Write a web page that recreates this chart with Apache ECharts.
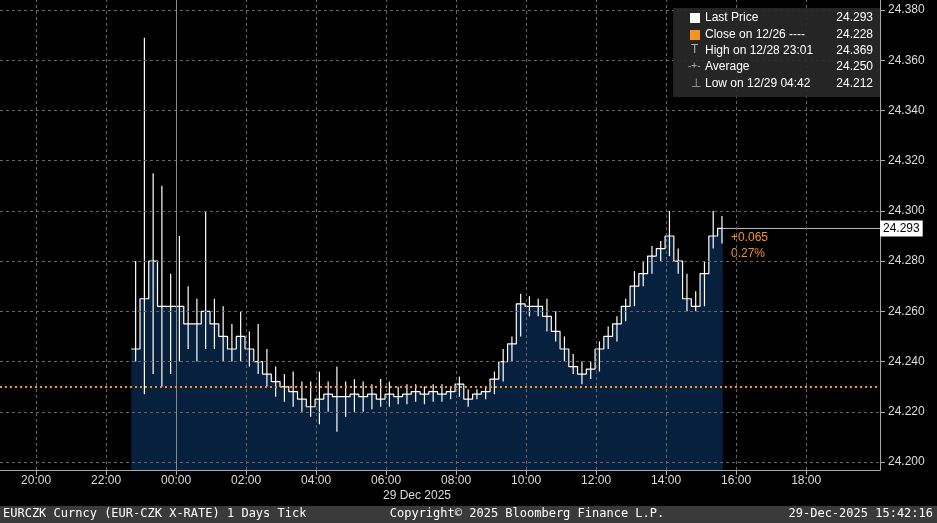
<!DOCTYPE html>
<html lang="en">
<head>
<meta charset="UTF-8">
<title>EURCZK</title>
<script src="https://cdn.jsdelivr.net/npm/echarts@6/dist/echarts.min.js"></script>
<style>html,body{margin:0;background:#000;}#main{width:937px;height:523px;}</style>
</head>
<body>
<div id="main"></div>
<script>
// 15-minute bars, hours counted from 28 Dec 00:00
var startHour = 22.72;
var closes = [24.245,24.265,24.280,24.262,24.262,24.262,24.255,24.255,24.260,24.255,24.250,24.245,24.250,24.245,24.240,24.235,24.232,24.230,24.228,24.225,24.222,24.225,24.227,24.226,24.226,24.227,24.226,24.227,24.225,24.227,24.226,24.227,24.228,24.227,24.228,24.227,24.228,24.231,24.225,24.227,24.228,24.233,24.240,24.247,24.263,24.262,24.262,24.258,24.252,24.245,24.238,24.235,24.237,24.245,24.250,24.255,24.262,24.270,24.275,24.282,24.285,24.290,24.280,24.265,24.262,24.275,24.290,24.293];
var highs = [24.280,24.369,24.315,24.310,24.275,24.290,24.270,24.265,24.300,24.265,24.262,24.255,24.260,24.252,24.255,24.245,24.238,24.235,24.236,24.232,24.232,24.236,24.232,24.238,24.232,24.233,24.232,24.231,24.233,24.232,24.230,24.231,24.231,24.230,24.231,24.231,24.230,24.234,24.229,24.229,24.230,24.236,24.245,24.250,24.267,24.266,24.265,24.265,24.260,24.250,24.243,24.240,24.240,24.248,24.254,24.258,24.265,24.276,24.280,24.286,24.288,24.300,24.285,24.275,24.268,24.280,24.300,24.298];
var lows = [24.240,24.227,24.235,24.230,24.235,24.240,24.245,24.240,24.245,24.245,24.240,24.240,24.240,24.238,24.235,24.230,24.226,24.224,24.222,24.220,24.218,24.215,24.220,24.212,24.218,24.220,24.220,24.221,24.222,24.222,24.223,24.223,24.224,24.223,24.224,24.224,24.225,24.226,24.222,24.225,24.225,24.227,24.232,24.240,24.250,24.258,24.258,24.252,24.248,24.240,24.235,24.231,24.233,24.236,24.245,24.248,24.256,24.262,24.270,24.275,24.280,24.282,24.275,24.260,24.260,24.262,24.285,24.287];
var yTicks = [24.20,24.22,24.24,24.26,24.28,24.30,24.32,24.34,24.36,24.38];
var xTicks = [20,22,24,26,28,30,32,34,36,38,40,42];
var prevClose = 24.228;
var lastPrice = 24.293;

var closeData = closes.map(function (v, i) { return [startHour + 0.25 * i, v]; });
var endHour = startHour + 0.25 * closes.length - 0.1;
closeData.push([endHour, lastPrice]);
var hlData = highs.map(function (v, i) { return [startHour + 0.25 * i + 0.125, lows[i], v]; });

var chart = echarts.init(document.getElementById('main'));
var font = 'Liberation Sans';
var dash = { color: '#666', type: [3, 3], width: 1 };

chart.setOption({
  backgroundColor: '#000',
  animation: false,
  grid: { left: 0, right: 57, top: 0, bottom: 53 },
  xAxis: {
    type: 'value', min: 18.97, max: 44.11,
    axisLine: { lineStyle: { color: '#aaa' } },
    axisTick: { customValues: xTicks, lineStyle: { color: '#aaa' } },
    axisLabel: {
      customValues: xTicks, color: '#ddd', fontFamily: font, fontSize: 12, margin: 5,
      formatter: function (v) { var h = Math.round(v) % 24; return (h < 10 ? '0' : '') + h + ':00'; }
    },
    splitLine: { show: false }
  },
  yAxis: {
    type: 'value', position: 'right', min: 24.1968, max: 24.384,
    axisLine: { show: true, lineStyle: { color: '#aaa' } },
    axisTick: { customValues: yTicks, lineStyle: { color: '#aaa' } },
    axisLabel: { customValues: yTicks, color: '#ddd', fontFamily: font, fontSize: 12, formatter: function (v) { return v.toFixed(3); } },
    splitLine: { show: false }
  },
  series: [
    {
      type: 'line', data: closeData, step: 'end', symbol: 'none',
      lineStyle: { color: '#fff', width: 1.2 },
      areaStyle: { color: '#06203d', opacity: 1, origin: 'start' },
      markLine: {
        silent: true, symbol: 'none', label: { show: false },
        data: yTicks.map(function (v) { return { yAxis: v, lineStyle: dash }; })
          .concat(xTicks.map(function (v) { return { xAxis: v, lineStyle: v === 24 ? { color: '#888', type: 'solid', width: 1 } : dash }; }))
          .concat([{ yAxis: prevClose, lineStyle: { color: '#f7941d', type: [2, 3], width: 2 } }])
      },
      z: 2
    },
    {
      type: 'custom', data: hlData, z: 3,
      renderItem: function (params, api) {
        var a = api.coord([api.value(0), api.value(1)]);
        var b = api.coord([api.value(0), api.value(2)]);
        return { type: 'line', shape: { x1: a[0], y1: a[1], x2: b[0], y2: b[1] }, style: { stroke: '#fff', lineWidth: 1.2 } };
      }
    },
    {
      type: 'line', data: [[endHour, lastPrice], [44.11, lastPrice]],
      symbol: 'none', lineStyle: { color: '#bbb', width: 1 }, z: 4,
      endLabel: {
        show: true, formatter: lastPrice.toFixed(3), backgroundColor: '#fff', color: '#000',
        fontFamily: font, fontSize: 12, padding: [2, 3], distance: 0
      }
    }
  ],
  graphic: [
    { type: 'text', left: 731, top: 232, style: { text: '+0.065', fill: '#f7941d', font: '12px Liberation Sans' } },
    { type: 'text', left: 731, top: 248, style: { text: '0.27%', fill: '#f7941d', font: '12px Liberation Sans' } },
    { type: 'rect', shape: { x: 673, y: 8, width: 207, height: 89 }, style: { fill: 'rgba(40,40,40,0.92)' }, z: 10 },
    { type: 'rect', shape: { x: 690, y: 13, width: 10, height: 10 }, style: { fill: '#fff' }, z: 11 },
    { type: 'rect', shape: { x: 690, y: 30, width: 10, height: 10 }, style: { fill: '#f7941d' }, z: 11 },
    { type: 'text', x: 691, y: 44, style: { text: 'T', fill: '#aaa', font: '12px Liberation Sans' }, z: 11 },
    { type: 'text', x: 688, y: 61, style: { text: '-+-', fill: '#aaa', font: '10px Liberation Sans' }, z: 11 },
    { type: 'text', x: 691, y: 78, style: { text: '⊥', fill: '#aaa', font: '12px Liberation Sans' }, z: 11 },
    { type: 'text', x: 705, y: 12, style: { text: 'Last Price', fill: '#fff', font: '12px Liberation Sans' }, z: 11 },
    { type: 'text', x: 705, y: 29, style: { text: 'Close on 12/26 ---- ', fill: '#fff', font: '12px Liberation Sans' }, z: 11 },
    { type: 'text', x: 705, y: 45, style: { text: 'High on 12/28 23:01', fill: '#fff', font: '12px Liberation Sans' }, z: 11 },
    { type: 'text', x: 705, y: 61, style: { text: 'Average', fill: '#fff', font: '12px Liberation Sans' }, z: 11 },
    { type: 'text', x: 705, y: 78, style: { text: 'Low on 12/29 04:42', fill: '#fff', font: '12px Liberation Sans' }, z: 11 },
    { type: 'text', x: 873, y: 12, style: { text: '24.293', fill: '#fff', font: '12px Liberation Sans', align: 'right' }, z: 11 },
    { type: 'text', x: 873, y: 29, style: { text: '24.228', fill: '#fff', font: '12px Liberation Sans', align: 'right' }, z: 11 },
    { type: 'text', x: 873, y: 45, style: { text: '24.369', fill: '#fff', font: '12px Liberation Sans', align: 'right' }, z: 11 },
    { type: 'text', x: 873, y: 61, style: { text: '24.250', fill: '#fff', font: '12px Liberation Sans', align: 'right' }, z: 11 },
    { type: 'text', x: 873, y: 78, style: { text: '24.212', fill: '#fff', font: '12px Liberation Sans', align: 'right' }, z: 11 },
    { type: 'text', x: 417, y: 490, style: { text: '29 Dec 2025', fill: '#ddd', font: '12px Liberation Sans', align: 'center' } },
    { type: 'rect', shape: { x: 0, y: 506, width: 937, height: 17 }, style: { fill: '#3a3a3a' } },
    { type: 'text', x: 3, y: 508, style: { text: 'EURCZK Curncy (EUR-CZK X-RATE) 1 Days Tick', fill: '#fff', font: '12px DejaVu Sans Mono' } },
    { type: 'text', x: 527, y: 508, style: { text: 'Copyright© 2025 Bloomberg Finance L.P.', fill: '#fff', font: '12px DejaVu Sans Mono', align: 'center' } },
    { type: 'text', x: 933, y: 508, style: { text: '29-Dec-2025 15:42:16', fill: '#fff', font: '12px DejaVu Sans Mono', align: 'right' } }
  ]
});
</script>
</body>
</html>
